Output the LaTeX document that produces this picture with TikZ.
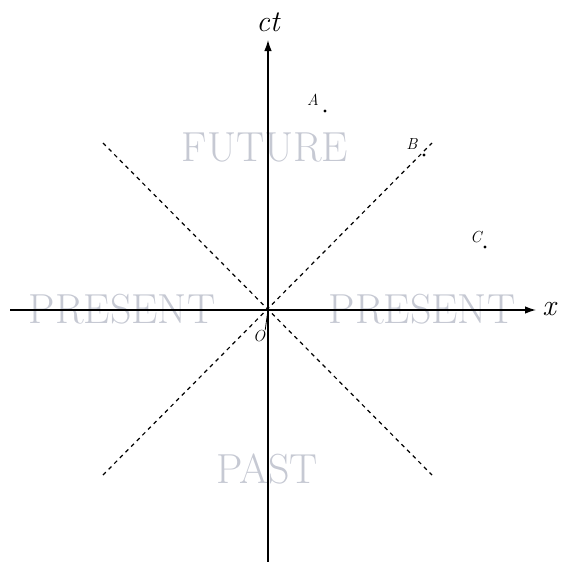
\documentclass[tikz,border=0pt]{standalone}
\usepackage{fontspec}
\usetikzlibrary{arrows.meta}
\definecolor{regiongray}{RGB}{198,201,211}
\begin{document}
\begin{tikzpicture}[x=1pt,y=-1pt,
  region/.style={text=regiongray,font=\fontsize{42}{44}\selectfont,inner sep=0pt},
  axis/.style={line width=1.3pt,-{Latex[length=11pt,width=7.5pt]}},
  cone/.style={line width=1.2pt,dash pattern=on 4pt off 4pt},
  ptlabel/.style={font=\fontsize{16}{18}\selectfont\itshape,inner sep=0pt},
  axlabel/.style={font=\fontsize{30}{32}\selectfont\itshape,inner sep=0pt},
  event/.style={circle,fill=black,inner sep=0pt,minimum size=3.4pt}]
\useasboundingbox (0,0) rectangle (563,562);
% region labels (behind axes)
\node[region] (future) at (265,147) {FUTURE};
\node[region] (presl) at (122,309) {PRESENT};
\node[region] (presr) at (422,309) {PRESENT};
\node[region] (past) at (267,469) {PAST};
% light cone
\coordinate (c1) at (103,143);
\coordinate (c2) at (432,475);
\coordinate (c3) at (103,475);
\coordinate (c4) at (432,143);
\draw[cone] (c1) -- (c2);
\draw[cone] (c3) -- (c4);
% axes
\coordinate (xl) at (10,310);
\coordinate (xr) at (536,310);
\coordinate (yb) at (268,562);
\coordinate (yt) at (268,40);
\draw[axis] (xl) -- (xr);
\draw[axis] (yb) -- (yt);
\node[axlabel] (ct) at (268,22) {ct};
\node[axlabel] (xlab) at (549,309) {x};
% origin
\node[event] (O) at (268,310) {};
\node[ptlabel] (Olab) at (259,336) {O};
\draw[line width=0.8pt] (O) -- (Olab.north east);
% events
\node[event] (A) at (325,111) {};
\node[ptlabel] (Alab) at (313,100) {A};
\node[event] (B) at (424,155) {};
\node[ptlabel] (Blab) at (412,144) {B};
\node[event] (C) at (485,247) {};
\node[ptlabel] (Clab) at (476,237) {C};
\end{tikzpicture}
\end{document}
